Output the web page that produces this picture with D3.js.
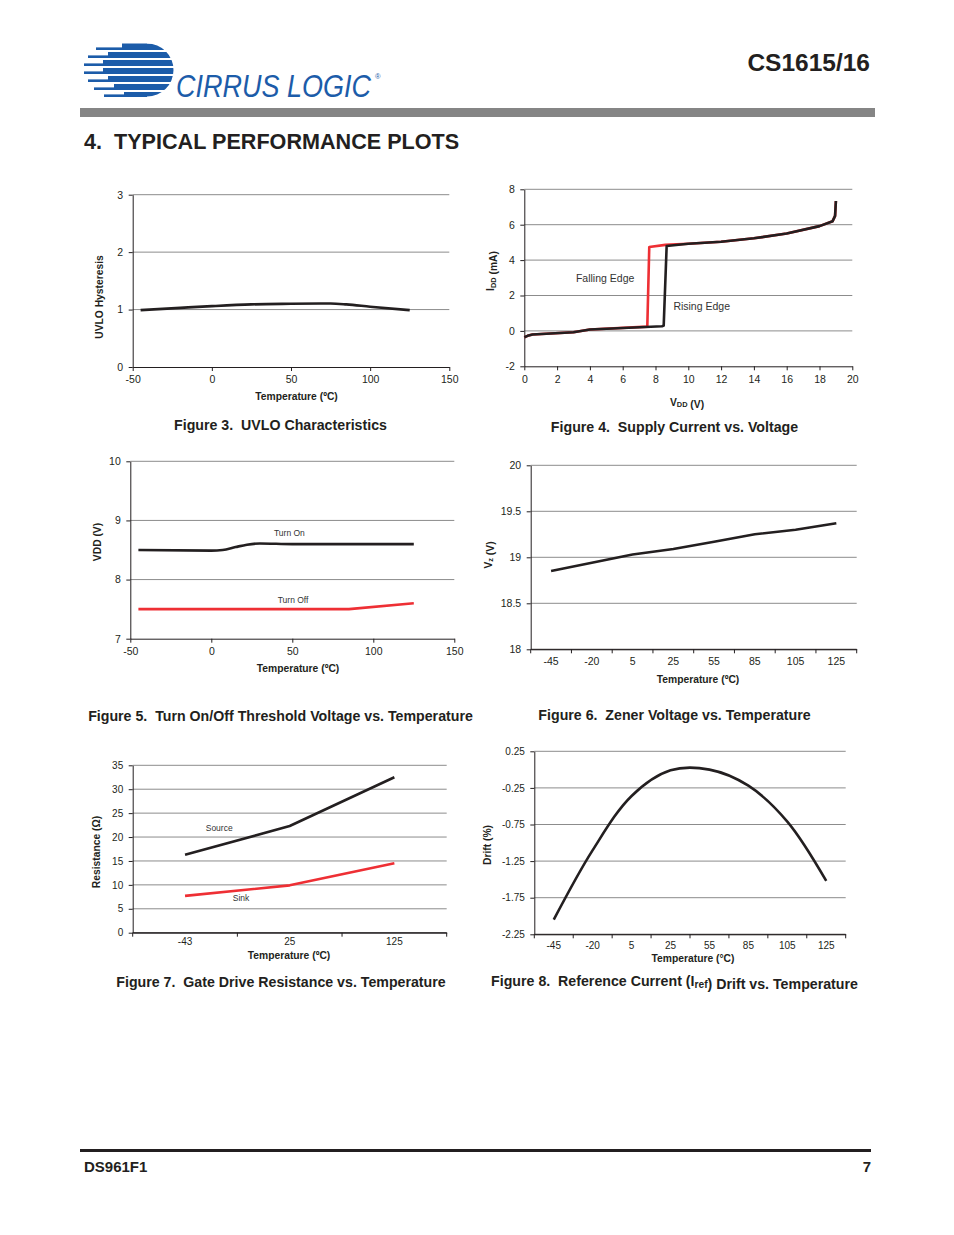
<!DOCTYPE html>
<html><head><meta charset="utf-8">
<script src="https://cdn.jsdelivr.net/npm/d3@7"></script>
<style>
body{margin:0;background:#fff;}
svg{display:block;font-family:"Liberation Sans",Arial,Helvetica,sans-serif;}
</style></head><body>
<svg id="page" width="954" height="1235"></svg>
<script>
// ---------- DATA ----------
// Figure 3: UVLO Characteristics
const fig3Temp = [-45, -20, 0, 25, 50, 75, 85, 100, 125];
const fig3Hyst = [0.99, 1.03, 1.06, 1.09, 1.10, 1.105, 1.09, 1.05, 0.99];
const fig3XTicks = [-50, 0, 50, 100, 150];
const fig3YTicks = [0, 1, 2, 3];
// Figure 4: Supply Current vs. Voltage
const fig4RisingV = [0, 0.2, 0.5, 3, 4, 8.4, 8.5, 8.68, 10, 12, 14, 16, 18, 18.8, 18.95, 19];
const fig4RisingI = [-0.36, -0.28, -0.2, -0.08, 0.08, 0.26, 0.3, 4.8, 4.92, 5.04, 5.23, 5.5, 5.92, 6.2, 6.5, 7.34];
const fig4FallingV = [0, 0.2, 0.5, 3, 4, 7.5, 7.62, 8.6, 10, 12, 14, 16, 18, 18.8, 18.95, 19];
const fig4FallingI = [-0.36, -0.28, -0.2, -0.08, 0.08, 0.24, 4.74, 4.86, 4.92, 5.04, 5.23, 5.5, 5.92, 6.2, 6.5, 7.34];
const fig4XTicks = [0, 2, 4, 6, 8, 10, 12, 14, 16, 18, 20];
const fig4YTicks = [-2, 0, 2, 4, 6, 8];
// Figure 5: Turn On/Off Threshold
const fig5OnTemp = [-45, 0, 7, 15, 22, 30, 50, 125];
const fig5OnV = [8.5, 8.49, 8.5, 8.55, 8.59, 8.61, 8.6, 8.6];
const fig5OffTemp = [-45, 85, 125];
const fig5OffV = [7.5, 7.5, 7.6];
const fig5XTicks = [-50, 0, 50, 100, 150];
const fig5YTicks = [7, 8, 9, 10];
// Figure 6: Zener Voltage
const fig6Cats = ["-45", "-20", "5", "25", "55", "85", "105", "125"];
const fig6Vz = [18.85, 18.94, 19.03, 19.09, 19.17, 19.25, 19.30, 19.37];
const fig6YTicks = [18, 18.5, 19, 19.5, 20];
// Figure 7: Gate Drive Resistance
const fig7Cats = ["-43", "25", "125"];
const fig7Source = [16.3, 22.3, 32.5];
const fig7Sink = [7.7, 9.9, 14.5];
const fig7YTicks = [0, 5, 10, 15, 20, 25, 30, 35];
// Figure 8: Iref Drift
const fig8Cats = ["-45", "-20", "5", "25", "55", "85", "105", "125"];
const fig8Drift = [-2.05, -1.10, -0.36, -0.01, 0.0, -0.22, -0.71, -1.52];
const fig8YTicks = [-2.25, -1.75, -1.25, -0.75, -0.25, 0.25];

// ---------- STYLE ----------
const INK = "#231f20", GRID = "#8c8c8c", RED = "#ee2f34", BLUE = "#1c5ca9";
const svg = d3.select("#page");
const plain = d => String(d);

// ---------- HEADER ----------
const logo = svg.append("g");
const defs = svg.append("defs");
const cp = defs.append("clipPath").attr("id", "globeClip");
cp.append("circle").attr("cx", 147).attr("cy", 70).attr("r", 26.5);
cp.append("rect").attr("x", 80).attr("y", 40).attr("width", 67).attr("height", 60);
const stripes = [
  {t: 43.5, b: 50, thick: 122, thin: 96},
  {t: 52, b: 58, thick: 108, thin: 88},
  {t: 60, b: 66, thick: 103, thin: 84},
  {t: 68, b: 74, thick: 103, thin: 84},
  {t: 76, b: 82, thick: 108, thin: 88},
  {t: 84, b: 90, thick: 114, thin: 94},
  {t: 92, b: 97, thick: 124, thin: 104}
];
const sg = logo.append("g").attr("clip-path", "url(#globeClip)");
stripes.forEach(s => {
  sg.append("rect").attr("x", s.thick).attr("y", s.t).attr("width", 180 - s.thick).attr("height", s.b - s.t).attr("fill", BLUE);
  sg.append("rect").attr("x", s.thin).attr("y", s.b - 2.6).attr("width", s.thick - s.thin + 1).attr("height", 2.6).attr("fill", BLUE);
});
logo.append("text").attr("transform", "translate(176,97) scale(1,1.15)").attr("font-size", 27).attr("font-style", "italic")
  .attr("fill", BLUE).text("CIRRUS LOGIC");
logo.append("text").attr("x", 375).attr("y", 79).attr("font-size", 7.5).attr("fill", BLUE).text("®");

svg.append("text").attr("x", 870).attr("y", 71).attr("text-anchor", "end").attr("font-size", 24.5)
  .attr("font-weight", "bold").attr("fill", INK).text("CS1615/16");
svg.append("rect").attr("x", 80).attr("y", 108).attr("width", 795).attr("height", 9).attr("fill", "#858585");
svg.append("text").attr("x", 84).attr("y", 149).attr("font-size", 21.6).attr("font-weight", "bold")
  .attr("fill", INK).attr("xml:space", "preserve").text("4.  TYPICAL PERFORMANCE PLOTS");

// ---------- FOOTER ----------
svg.append("rect").attr("x", 80).attr("y", 1149).attr("width", 791).attr("height", 3).attr("fill", INK);
svg.append("text").attr("x", 84).attr("y", 1172).attr("font-size", 15).attr("font-weight", "bold").attr("fill", INK).text("DS961F1");
svg.append("text").attr("x", 871).attr("y", 1172).attr("text-anchor", "end").attr("font-size", 15).attr("font-weight", "bold").attr("fill", INK).text("7");

// ---------- HELPERS ----------
function frame(g, x, y, yTicks, opts) {
  const [x0, x1] = x.range();
  const yb = y.range()[0];
  g.append("g").selectAll("line").data(yTicks.filter(t => y(t) !== yb)).join("line")
    .attr("x1", x0).attr("x2", x1).attr("y1", d => y(d)).attr("y2", d => y(d))
    .attr("stroke", GRID).attr("stroke-width", 1);
  const ya = g.append("g").attr("transform", `translate(${x0},0)`)
    .call(d3.axisLeft(y).tickValues(yTicks).tickSize(4).tickSizeOuter(0).tickPadding(5.5).tickFormat(plain));
  let xa;
  if (x.bandwidth) {
    xa = g.append("g").attr("transform", `translate(0,${yb})`)
      .call(d3.axisBottom(x).tickSize(0).tickSizeOuter(0).tickPadding(opts.xPad || 8));
    const bounds = d3.range(x.domain().length + 1).map(i => x0 + i * x.step());
    g.append("g").selectAll("line").data(bounds).join("line")
      .attr("x1", d => d).attr("x2", d => d).attr("y1", yb).attr("y2", yb + 4)
      .attr("stroke", INK);
  } else {
    xa = g.append("g").attr("transform", `translate(0,${yb})`)
      .call(d3.axisBottom(x).tickValues(opts.xTicks).tickSize(4).tickSizeOuter(0).tickPadding(opts.xPad || 4).tickFormat(plain));
  }
  [ya, xa].forEach(a => {
    a.selectAll("path.domain").attr("stroke", INK).attr("stroke-width", 1);
    a.selectAll(".tick line").attr("stroke", INK);
    a.selectAll("text").attr("font-size", opts.tickSize || 10.5).attr("fill", INK)
      .attr("font-family", '"Liberation Sans",Arial,sans-serif');
  });
  if (x.bandwidth) {
    g.append("line").attr("x1", x0).attr("x2", x1).attr("y1", yb).attr("y2", yb).attr("stroke", INK);
  }
}
function titleX(g, xpos, ypos, parts, size) {
  const t = g.append("text").attr("x", xpos).attr("y", ypos).attr("text-anchor", "middle")
    .attr("dominant-baseline", "middle").attr("font-size", size || 10.3).attr("font-weight", "bold").attr("fill", INK);
  addParts(t, parts);
}
function titleY(g, xpos, ypos, parts, size) {
  const t = g.append("text").attr("transform", `translate(${xpos},${ypos}) rotate(-90)`).attr("text-anchor", "middle")
    .attr("dominant-baseline", "middle").attr("font-size", size || 10.3).attr("font-weight", "bold").attr("fill", INK);
  addParts(t, parts);
}
function addParts(t, parts) {
  parts.forEach(p => {
    if (typeof p === "string") t.append("tspan").text(p);
    else {
      t.append("tspan").attr("font-size", "0.72em").attr("dy", p.dy || 3).text(p.sub);
      t.append("tspan").attr("dy", -(p.dy || 3)).text("");
    }
  });
}
function caption(xc, yc, parts) {
  const t = svg.append("text").attr("x", xc).attr("y", yc).attr("text-anchor", "middle")
    .attr("dominant-baseline", "middle").attr("font-size", 14.2).attr("font-weight", "bold")
    .attr("fill", INK).attr("xml:space", "preserve");
  addParts(t, parts);
}
function label(g, xp, yp, txt, size) {
  g.append("text").attr("x", xp).attr("y", yp).attr("dominant-baseline", "middle")
    .attr("font-size", size).attr("fill", "#333").text(txt);
}
function seriesPath(g, xs, ys, x, y, color, curve, width) {
  const pts = xs.map((v, i) => [v, ys[i]]);
  g.append("path").datum(pts)
    .attr("d", d3.line().x(d => x.bandwidth ? x(d[0]) + x.bandwidth() / 2 : x(d[0])).y(d => y(d[1])).curve(curve || d3.curveLinear))
    .attr("fill", "none").attr("stroke", color).attr("stroke-width", width || 2.6)
    .attr("stroke-linejoin", "round").attr("stroke-linecap", "butt");
}

// ---------- FIGURE 3 ----------
{
  const g = svg.append("g");
  const x = d3.scaleLinear().domain([-50, 150]).range([132.7, 449.3]);
  const y = d3.scaleLinear().domain([0, 3]).range([367, 194.7]);
  frame(g, x, y, fig3YTicks, {xTicks: fig3XTicks, xPad: 5});
  seriesPath(g, fig3Temp, fig3Hyst, x, y, INK, d3.curveMonotoneX);
  titleX(g, 296.5, 396.5, ["Temperature (ºC)"]);
  titleY(g, 100, 297, ["UVLO Hysteresis"]);
  caption(280.5, 425.5, ["Figure 3.  UVLO Characteristics"]);
}
// ---------- FIGURE 4 ----------
{
  const g = svg.append("g");
  const x = d3.scaleLinear().domain([0, 20]).range([524.3, 852.3]);
  const y = d3.scaleLinear().domain([-2, 8]).range([366.3, 189.3]);
  frame(g, x, y, fig4YTicks, {xTicks: fig4XTicks, xPad: 5});
  seriesPath(g, fig4FallingV, fig4FallingI, x, y, RED);
  seriesPath(g, fig4RisingV, fig4RisingI, x, y, INK);
  label(g, x(3.15), y(2.92), "Falling Edge", 10.5);
  label(g, x(9.09), y(1.31), "Rising Edge", 10.5);
  titleX(g, 687, 402.5, ["V", {sub: "DD", dy: 2.5}, " (V)"]);
  titleY(g, 491, 271, ["I", {sub: "DD", dy: 2.5}, " (mA)"]);
  caption(674.5, 427.5, ["Figure 4.  Supply Current vs. Voltage"]);
}
// ---------- FIGURE 5 ----------
{
  const g = svg.append("g");
  const x = d3.scaleLinear().domain([-50, 150]).range([130.3, 454.3]);
  const y = d3.scaleLinear().domain([7, 10]).range([638.7, 461.3]);
  frame(g, x, y, fig5YTicks, {xTicks: fig5XTicks, xPad: 5});
  seriesPath(g, fig5OffTemp, fig5OffV, x, y, RED);
  seriesPath(g, fig5OnTemp, fig5OnV, x, y, INK, d3.curveMonotoneX);
  label(g, x(38.7), y(8.77), "Turn On", 8.5);
  label(g, x(41), y(7.65), "Turn Off", 8.5);
  titleX(g, 298, 668.5, ["Temperature (ºC)"]);
  titleY(g, 97.5, 542, ["VDD (V)"]);
  caption(280.5, 716.5, ["Figure 5.  Turn On/Off Threshold Voltage vs. Temperature"]);
}
// ---------- FIGURE 6 ----------
{
  const g = svg.append("g");
  const x = d3.scaleBand().domain(fig6Cats).range([530.7, 856.7]).padding(0);
  const y = d3.scaleLinear().domain([18, 20]).range([649.3, 465.3]);
  frame(g, x, y, fig6YTicks, {xPad: 8.5});
  seriesPath(g, fig6Cats, fig6Vz, x, y, INK);
  titleX(g, 698, 679.5, ["Temperature (ºC)"]);
  titleY(g, 488.5, 555, ["V", {sub: "z", dy: 2.5}, " (V)"]);
  caption(674.5, 715.5, ["Figure 6.  Zener Voltage vs. Temperature"]);
}
// ---------- FIGURE 7 ----------
{
  const g = svg.append("g");
  const x = d3.scaleBand().domain(fig7Cats).range([132.7, 446.7]).padding(0);
  const y = d3.scaleLinear().domain([0, 35]).range([932.7, 765.3]);
  frame(g, x, y, fig7YTicks, {xPad: 5, tickSize: 10});
  seriesPath(g, fig7Cats, fig7Sink, x, y, RED);
  seriesPath(g, fig7Cats, fig7Source, x, y, INK);
  const c0 = x(fig7Cats[0]) + x.bandwidth() / 2;
  label(g, c0 + 20.7, y(21.7), "Source", 8.5);
  label(g, c0 + 47.7, y(7.05), "Sink", 8.5);
  titleX(g, 289, 955.5, ["Temperature (ºC)"]);
  titleY(g, 97, 852, ["Resistance (Ω)"]);
  caption(281, 982.5, ["Figure 7.  Gate Drive Resistance vs. Temperature"]);
}
// ---------- FIGURE 8 ----------
{
  const g = svg.append("g");
  const x = d3.scaleBand().domain(fig8Cats).range([534.3, 845.7]).padding(0);
  const y = d3.scaleLinear().domain([-2.25, 0.25]).range([934.3, 751.3]);
  frame(g, x, y, fig8YTicks, {xPad: 7.5, tickSize: 10});
  seriesPath(g, fig8Cats, fig8Drift, x, y, INK, d3.curveCatmullRom.alpha(0.5));
  titleX(g, 693, 958.5, ["Temperature (°C)"]);
  titleY(g, 487.5, 845, ["Drift (%)"]);
  caption(674.5, 981.5, ["Figure 8.  Reference Current (I", {sub: "ref", dy: 3.5}, ") Drift vs. Temperature"]);
}
</script>
</body></html>
